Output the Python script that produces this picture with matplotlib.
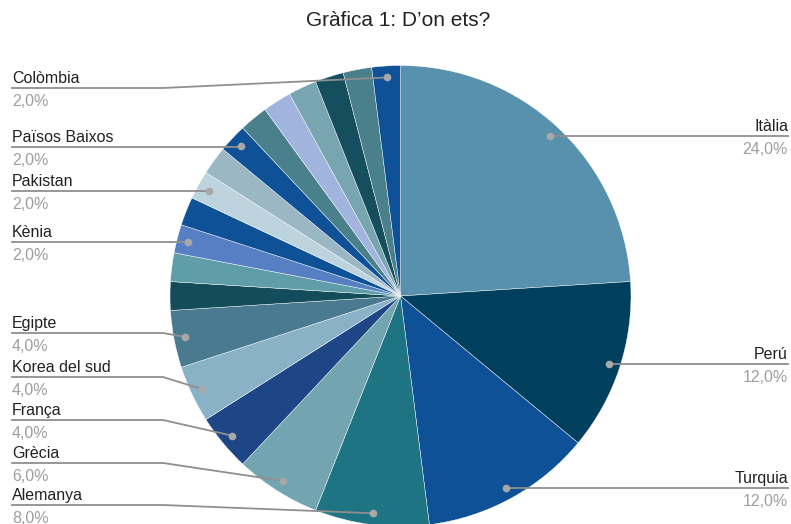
import matplotlib.pyplot as plt
import numpy as np

plt.rcParams['font.family'] = ['Liberation Sans', 'DejaVu Sans']

countries = ['Itàlia', 'Perú', 'Turquia', 'Alemanya', 'Grècia', 'França',
             'Korea del sud', 'Egipte', '', '', 'Kènia', '', 'Pakistan', '',
             'Països Baixos', '', '', '', '', '', 'Colòmbia']
shares = [24, 12, 12, 8, 6, 4, 4, 4, 2, 2, 2, 2, 2, 2, 2, 2, 2, 2, 2, 2, 2]
colors = ['#5891ad', '#00405e', '#0e5196', '#1e7483', '#73a5b0', '#1e4586',
          '#8ab2c7', '#4a7a8f', '#154c5b', '#5f9ea8', '#5780c4', '#0e5196',
          '#bdd4df', '#9ab7c3', '#0e5196', '#4a7f8c', '#a1b4de', '#77a6b0',
          '#154e5c', '#4a808c', '#0e5196']

# label placement (pixel rows of the leader lines on the left side)
left_rows = {'Colòmbia': 88, 'Països Baixos': 147, 'Pakistan': 191, 'Kènia': 242,
             'Egipte': 333, 'Korea del sud': 377, 'França': 420, 'Grècia': 463,
             'Alemanya': 505}
right_labels = ['Itàlia', 'Perú', 'Turquia']

W, H = 791, 524
cx, cy, R = 400.5, 296, 230.5

fig = plt.figure(figsize=(W / 100, H / 100), dpi=100)
ax = fig.add_axes([0, 0, 1, 1])

ax.pie(shares, colors=colors, startangle=90, counterclock=False,
       center=(cx, H - cy), radius=R, frame=True,
       wedgeprops=dict(edgecolor='white', linewidth=0.3))
ax.set_xlim(0, W)
ax.set_ylim(0, H)
ax.axis('off')

total = sum(shares)
cum = np.cumsum([0] + shares)
line_col = '#8f8f8f'
fs = 11.5
for i, name in enumerate(countries):
    if not name:
        continue
    mid = (cum[i] + cum[i + 1]) / 2 / total
    ang = np.deg2rad(90 - 360 * mid)
    dx = cx + 0.95 * R * np.cos(ang)
    dy = H - cy + 0.95 * R * np.sin(ang)
    pct = f'{shares[i] / total * 100:.1f}%'.replace('.', ',')
    if name in right_labels:
        ly = dy
        ax.plot([dx, 788], [ly, ly], color=line_col, lw=1.3, zorder=3)
        ax.text(788, ly + 5, name, ha='right', va='baseline', fontsize=fs, color='#222222')
        ax.text(788, ly - 6, pct, ha='right', va='top', fontsize=fs, color='#9e9e9e')
    else:
        ly = H - left_rows[name]
        if abs(ly - dy) < 2:
            ax.plot([12, dx], [ly, ly], color=line_col, lw=1.3, zorder=3)
        else:
            ax.plot([12, 163, dx], [ly, ly, dy], color=line_col, lw=1.3, zorder=3)
        ax.text(12, ly + 5, name, ha='left', va='baseline', fontsize=fs, color='#222222')
        ax.text(12, ly - 6, pct, ha='left', va='top', fontsize=fs, color='#9e9e9e')
    ax.plot(dx, dy, 'o', color='#a8a8a8', ms=4.5, zorder=4)

ax.text(398, H - 21, 'Gràfica 1: D’on ets?', ha='center', va='center',
        fontsize=15, color='#222222')

fig.savefig('out.png', dpi=100)
